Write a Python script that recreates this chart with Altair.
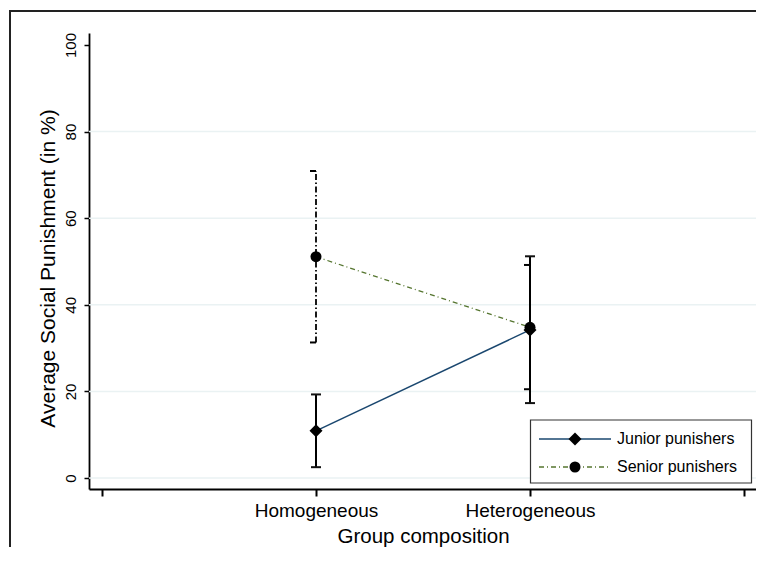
import altair as alt
import pandas as pd

# ---- data ----
groups = ["Homogeneous", "Heterogeneous"]
group_x = [1, 2]
series = ["Junior punishers", "Senior punishers"]

junior_mean = [10.9, 34.2]
junior_lo = [2.5, 17.3]
junior_hi = [19.3, 51.2]

senior_mean = [51.1, 34.8]
senior_lo = [31.3, 20.5]
senior_hi = [70.9, 49.2]

y_ticks = [0, 20, 40, 60, 80, 100]
grid_vals = [0, 20, 40, 60, 80]
x_ticks = [0, 1, 2, 3]

FONT = "Liberation Sans"
NAVY = "#1a476f"
GREEN = "#55752f"

df_j = pd.DataFrame({"x": group_x, "group": groups, "mean": junior_mean,
                     "lo": junior_lo, "hi": junior_hi})
df_s = pd.DataFrame({"x": group_x, "group": groups, "mean": senior_mean,
                     "lo": senior_lo, "hi": senior_hi})
df_grid = pd.DataFrame({"v": grid_vals})

xscale = alt.Scale(domain=[-0.0607, 3.056], nice=False, zero=False)
yscale = alt.Scale(domain=[-2.54, 102.77], nice=False, zero=False)

label_expr = " : ".join(
    [f"datum.value == {v} ? '{g}'" for v, g in zip(group_x, groups)]) + " : ''"

x_axis = alt.Axis(values=x_ticks, labelExpr=label_expr, grid=False,
                  tickSize=7, tickWidth=2, tickColor="black",
                  domainColor="black", domainWidth=2,
                  labelFont=FONT, labelFontSize=19, labelColor="black",
                  labelBaseline="alphabetic", labelPadding=20,
                  labelFlush=False, labelOverlap=False,
                  title="Group composition", titleFont=FONT, titleFontSize=20.5,
                  titleFontWeight="normal", titleColor="black",
                  titleX=334, titleY=53, titleAlign="center",
                  titleBaseline="alphabetic")

y_axis = alt.Axis(values=y_ticks, grid=False,
                  tickSize=5, tickWidth=1.5, tickColor="black",
                  domainColor="black", domainWidth=1.8,
                  labelFont=FONT, labelFontSize=15, labelColor="black",
                  labelAngle=270, labelAlign="center",
                  labelBaseline="alphabetic", labelPadding=9,
                  labelFlush=False, labelOverlap=False,
                  title="Average Social Punishment (in %)", titleFont=FONT,
                  titleFontSize=21, titleFontWeight="normal",
                  titleColor="black", titleAngle=270, titleX=-35, titleY=235,
                  titleAlign="center", titleBaseline="alphabetic")


def X(field="x:Q"):
    return alt.X(field, scale=xscale, axis=x_axis)


def Y(field):
    return alt.Y(field, scale=yscale, axis=y_axis)


one = pd.DataFrame({"a": [0]})

grid = alt.Chart(df_grid).mark_rule(color="#eaf2f3", strokeWidth=1.5).encode(
    y=Y("v:Q"))

j_line = alt.Chart(df_j).mark_line(color=NAVY, strokeWidth=1.5).encode(
    x=X(), y=Y("mean:Q"))

s_line = alt.Chart(df_s).mark_line(color=GREEN, strokeWidth=1.3,
                                   strokeDash=[5, 3, 1, 3]).encode(
    x=X(), y=Y("mean:Q"))

s_err = alt.Chart(df_s).mark_rule(color="black", strokeWidth=1.8,
                                  strokeDash=[6, 2.5, 1.5, 2.5]).encode(
    x=X(), y=Y("lo:Q"), y2="hi:Q")

s_caps = alt.Chart(df_s).transform_fold(["lo", "hi"], as_=["k", "val"]).mark_rule(
    color="black", strokeWidth=2, xOffset=-6, x2Offset=0).encode(
    x=X(), x2="x:Q", y=Y("val:Q"))

j_err = alt.Chart(df_j).mark_rule(color="black", strokeWidth=2).encode(
    x=X(), y=Y("lo:Q"), y2="hi:Q")

j_caps = alt.Chart(df_j).transform_fold(["lo", "hi"], as_=["k", "val"]).mark_rule(
    color="#111111", strokeWidth=2, xOffset=-5, x2Offset=5).encode(
    x=X(), x2="x:Q", y=Y("val:Q"))

s_pts = alt.Chart(df_s).mark_point(shape="circle", filled=True, color="black",
                                   size=121, opacity=1).encode(
    x=X(), y=Y("mean:Q"))

j_pts = alt.Chart(df_j).mark_point(shape="diamond", filled=True, color="black",
                                   size=169, opacity=1).encode(
    x=X(), y=Y("mean:Q"))

# outer frame (graph region border) and legend, drawn as decoration
frame = alt.Chart(one).mark_rect(fill="white", fillOpacity=0, stroke="#222222",
                                 strokeWidth=2).encode(
    x=alt.value(-79), x2=alt.value(720), y=alt.value(-22), y2=alt.value(600))

leg_box = alt.Chart(one).mark_rect(fill="white", stroke="#333333",
                                   strokeWidth=1.2).encode(
    x=alt.value(441.5), x2=alt.value(662.5), y=alt.value(387), y2=alt.value(450))
leg_l1 = alt.Chart(one).mark_rule(color=NAVY, strokeWidth=1.5).encode(
    x=alt.value(450), x2=alt.value(522), y=alt.value(406))
leg_p1 = alt.Chart(one).mark_point(shape="diamond", filled=True, color="black",
                                   size=169, opacity=1).encode(
    x=alt.value(486), y=alt.value(406))
leg_t1 = alt.Chart(pd.DataFrame({"label": [series[0]]})).mark_text(
    align="left", baseline="middle", font=FONT, fontSize=16,
    color="black").encode(x=alt.value(528), y=alt.value(406), text="label:N")
leg_l2 = alt.Chart(one).mark_rule(color=GREEN, strokeWidth=1.3,
                                  strokeDash=[5, 3, 1, 3]).encode(
    x=alt.value(450), x2=alt.value(522), y=alt.value(434))
leg_p2 = alt.Chart(one).mark_point(shape="circle", filled=True, color="black",
                                   size=121, opacity=1).encode(
    x=alt.value(486), y=alt.value(434))
leg_t2 = alt.Chart(pd.DataFrame({"label": [series[1]]})).mark_text(
    align="left", baseline="middle", font=FONT, fontSize=16,
    color="black").encode(x=alt.value(528), y=alt.value(434), text="label:N")

chart = alt.layer(
    grid, j_line, s_line, s_err, s_caps, j_err, j_caps, s_pts, j_pts,
    frame, leg_box, leg_l1, leg_p1, leg_t1, leg_l2, leg_p2, leg_t2
).properties(
    width=667, height=456,
    autosize=alt.AutoSizeParams(type="none"),
    padding={"left": 81, "top": 25, "right": 0, "bottom": 58},
    background="white",
).configure_view(strokeWidth=0)

chart.save("out.html", embed_options={"renderer": "svg", "actions": False})
